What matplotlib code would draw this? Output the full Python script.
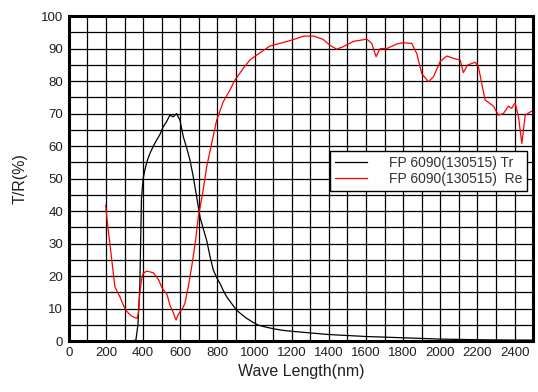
import matplotlib.pyplot as plt
from matplotlib.ticker import MultipleLocator

plt.rcParams['font.family'] = ['Liberation Sans', 'DejaVu Sans']

# Transmittance (Tr)
tr_nm = [200, 340, 361, 372, 382, 391, 400, 409, 422, 436, 455, 472, 490, 508, 526, 544, 562,
         580, 598, 616, 634, 652, 670, 688, 706, 724, 742, 760, 778, 796, 814, 832, 850,
         877, 903, 930, 957, 990, 1020, 1060, 1100, 1150, 1200, 1300, 1400, 1500, 1600,
         1700, 1800, 1900, 2000, 2100, 2200, 2300, 2400, 2500]
tr_val = [0.0, 0.0, 0.3, 5.0, 16.7, 44.0, 50.0, 52.6, 55.5, 57.7, 60.0, 61.8, 63.5, 65.9, 67.5, 69.5, 69.0,
          70.0, 68.0, 62.9, 59.5, 55.7, 50.5, 44.4, 38.2, 34.5, 31.0, 26.0, 21.8, 19.5, 17.7, 15.5, 13.6,
          11.5, 9.5, 8.2, 7.0, 5.8, 4.9, 4.3, 3.8, 3.3, 3.0, 2.5, 2.0, 1.7, 1.4,
          1.2, 1.0, 0.8, 0.6, 0.5, 0.4, 0.35, 0.3, 0.3]

# Reflectance (Re)
re_nm = [198, 210, 221, 235, 248, 262, 275, 290, 302, 320, 338, 355, 368, 375, 382, 390, 400,
         418, 436, 454, 472, 486, 499, 512, 526, 535, 544, 560, 577, 588, 598, 612, 625,
         643, 661, 679, 697, 720, 742, 769, 796, 831, 867, 894, 939, 975, 1029, 1083, 1137,
         1200, 1262, 1316, 1370, 1406, 1442, 1478, 1532, 1604, 1631, 1654, 1676, 1712, 1765,
         1801, 1846, 1873, 1900, 1936, 1963, 1999, 2035, 2071, 2107, 2124, 2146, 2188, 2205,
         2241, 2286, 2313, 2340, 2367, 2384, 2403, 2421, 2439, 2457, 2484, 2498]
re_val = [41.8, 35.0, 30.0, 23.0, 16.7, 15.0, 13.6, 11.5, 10.0, 8.6, 7.7, 7.2, 7.0, 9.0, 14.7, 18.5, 20.8,
          21.5, 21.3, 21.0, 19.8, 18.5, 16.7, 15.5, 14.7, 13.0, 11.1, 9.0, 6.5, 8.0, 9.0, 10.0, 11.6,
          16.7, 22.8, 29.5, 38.2, 45.4, 53.6, 60.8, 68.0, 73.6, 77.2, 80.3, 83.9, 86.5, 88.7, 90.8, 91.6,
          92.6, 93.8, 93.9, 92.8, 91.0, 89.8, 90.6, 92.2, 92.9, 91.6, 87.5, 90.0, 90.0, 91.4,
          91.8, 91.6, 88.5, 82.3, 79.8, 81.3, 86.0, 87.7, 87.0, 86.5, 82.6, 84.9, 85.8, 84.4,
          74.2, 72.3, 69.5, 70.0, 72.3, 71.6, 73.3, 69.0, 60.8, 69.5, 70.5, 70.8]

labels = ['FP 6090(130515) Tr', 'FP 6090(130515)  Re']

fig = plt.figure(figsize=(5.38, 3.92), dpi=100)
ax = fig.add_axes([0.128, 0.130, 0.863, 0.829])

ax.plot(tr_nm, tr_val, color='black', lw=0.9, label=labels[0])
ax.plot(re_nm, re_val, color='red', lw=0.9, label=labels[1])

ax.set_xlim(0, 2500)
ax.set_ylim(0, 100)
ax.xaxis.set_major_locator(MultipleLocator(200))
ax.xaxis.set_minor_locator(MultipleLocator(100))
ax.yaxis.set_major_locator(MultipleLocator(10))
ax.yaxis.set_minor_locator(MultipleLocator(5))
ax.grid(True, which='both', color='black', lw=0.9)
ax.set_axisbelow(True)
ax.tick_params(which='both', length=0, labelsize=9.5, colors='#202020', pad=4)
for s in ax.spines.values():
    s.set_linewidth(2.2)

ax.set_xlabel('Wave Length(nm)', fontsize=11.5, color='#202020', labelpad=4)
ax.set_ylabel('T/R(%)', fontsize=11.5, color='#202020', labelpad=10)

leg = ax.legend(loc='upper left', bbox_to_anchor=(0.5625, 0.585), fontsize=10,
                handlelength=2.3, handletextpad=1.6, borderpad=0.35, labelspacing=0.15,
                borderaxespad=0, fancybox=False, framealpha=1, edgecolor='black')
leg.get_frame().set_linewidth(1.0)
for t in leg.get_texts():
    t.set_color('#303030')

fig.savefig('out.png', dpi=100)
